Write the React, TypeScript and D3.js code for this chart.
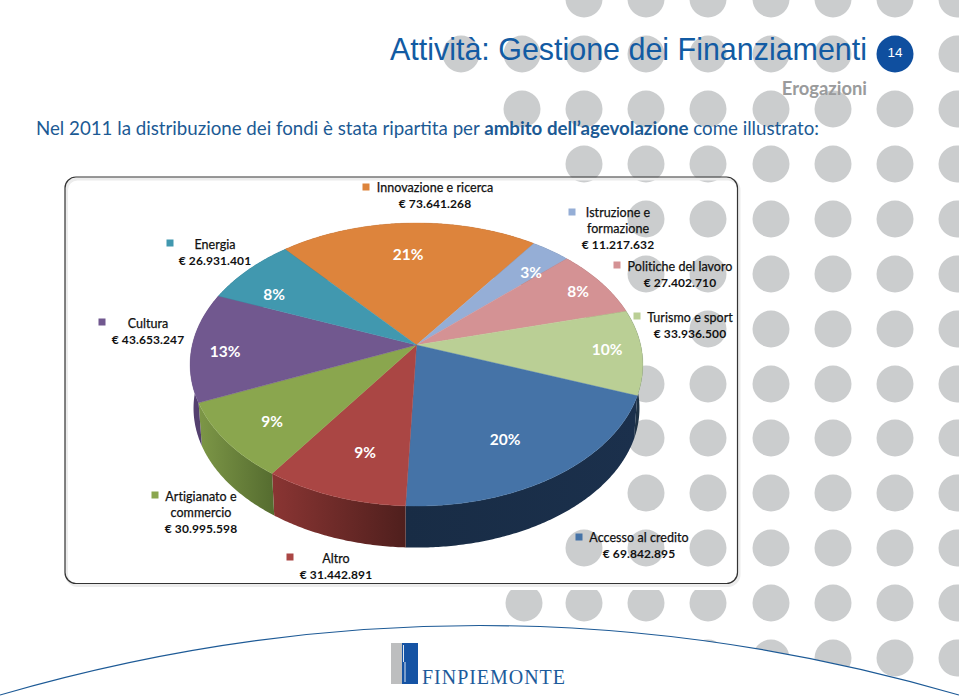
import React from 'react';
import * as d3 from 'd3';

const categories = ['Innovazione e ricerca', 'Istruzione e formazione', 'Politiche del lavoro', 'Turismo e sport', 'Accesso al credito', 'Altro', 'Artigianato e commercio', 'Cultura', 'Energia'];
const values = [73641268, 11217632, 27402710, 33936500, 69842895, 31442891, 30995598, 43653247, 26931401];
const amountLabels = ['€ 73.641.268', '€ 11.217.632', '€ 27.402.710', '€ 33.936.500', '€ 69.842.895', '€ 31.442.891', '€ 30.995.598', '€ 43.653.247', '€ 26.931.401'];
const nameLines = [['Innovazione e ricerca'], ['Istruzione e', 'formazione'], ['Politiche del lavoro'], ['Turismo e sport'], ['Accesso al credito'], ['Altro'], ['Artigianato e', 'commercio'], ['Cultura'], ['Energia']];
const topColors = ['#dd843c', '#95aed6', '#d49294', '#bacf95', '#4573a7', '#aa4644', '#8aa64e', '#71588f', '#4198af'];
const wallFrom = ['#8a5426', '#5d6d86', '#85595a', '#1f3346', '#182c45', '#8a3533', '#7d9747', '#54406f', '#2a6170'];
const wallTo = ['#8a5426', '#5d6d86', '#85595a', '#1f3346', '#1b304c', '#4f1f1d', '#566d30', '#43335c', '#2a6170'];

// layout of the label furniture, by category order
const legendSquareX = [366, 572, 617, 637, 579, 290, 155, 102, 170];
const legendSquareY = [187, 212, 265, 316, 537, 557, 495, 322, 243];
const legendCenterX = [435, 618, 680, 690, 639, 336, 201, 148, 215];
const legendFirstY = [187, 212, 266, 317, 537, 558, 496, 323, 244];
const pctX = [408, 531, 578, 607, 505, 365, 272, 225, 274];
const pctY = [254, 272, 291, 349, 439, 452, 421, 351, 294];

const dotRows = [-1, 54, 109, 164, 219, 274, 329, 384, 438, 493, 548, 603, 658];
const dotCols: number[][] = [
  [584, 646, 708, 771, 833, 895, 957],
  [461, 522, 584, 646, 708, 771, 833, 957],
  [522, 584, 646, 708, 771, 833, 895, 957],
  [584, 646, 708, 771, 833, 895, 957],
  [646, 708, 771, 833, 895, 957],
  [646, 708, 771, 833, 895, 957],
  [708, 771, 833, 895, 957],
  [646, 708, 771, 833, 895, 957],
  [646, 708, 771, 833, 895, 957],
  [646, 708, 771, 833, 895, 957],
  [584, 646, 708, 771, 833, 895, 957],
  [524, 584, 646, 708, 771, 833, 895, 957],
  [708, 771, 833, 895, 957],
];

const W = 959, H = 700;
const cx = 416.5, cy = 345;
const a = 224.2, b = 138.8, k = 0.138;
const baseScale = 0.985, depth = 44;
const startDeg = -40.4;

const proj = (t: number, s = 1, d = 0): [number, number] => {
  const X = Math.sin(t), Y = -Math.cos(t), w = 1 - k * Y;
  return [cx + (s * a * X) / w, cy + (s * b * Y) / w + d];
};
const start = (startDeg * Math.PI) / 180;
const arcs = d3.pie<number>().sort(null).startAngle(start).endAngle(start + 2 * Math.PI)(values);
const total = d3.sum(values);
const pct = d3.format('.0%');
const line = d3.line();
const sample = (a0: number, a1: number) => [...d3.range(a0, a1, 0.01), a1];
const LEGEND = 'Lato, Carlito, sans-serif';
const curve = 'M0,695 Q480,556 959,695';

export default function App() {
  return (
    <svg width={W} height={H} viewBox={`0 0 ${W} ${H}`} style={{ position: 'absolute', left: 0, top: 0, background: '#fff' }}>
      <defs>
        {arcs.map((s, i) => {
          const p0 = proj(s.startAngle), p1 = proj(s.endAngle);
          return (
            <linearGradient key={i} id={`wall${i}`} gradientUnits="userSpaceOnUse" x1={Math.min(p0[0], p1[0])} x2={Math.max(p0[0], p1[0])} y1={0} y2={0}>
              <stop offset="0" stopColor={wallFrom[i]} />
              <stop offset="1" stopColor={wallTo[i]} />
            </linearGradient>
          );
        })}
      </defs>

      {dotRows.map((y, r) => dotCols[r].map((x) => <circle key={`${r}-${x}`} cx={x} cy={y} r={18.5} fill="#cbcdce" />))}

      {/* white area under the footer curve */}
      <path d={`${curve} L959,700 L0,700 Z`} fill="#fff" />
      <path d={curve} fill="none" stroke="#1d5a96" strokeWidth={1.2} />

      {/* card */}
      <rect x={67} y={585} width={672} height={5} fill="#fff" />
      <rect x={738} y={180} width={5} height={408} fill="#fff" />
      <rect x={66.5} y={179} width={672.5} height={406.5} rx={11} fill="none" stroke="#ececec" strokeWidth={3} />
      <rect x={65} y={177} width={672.5} height={406.5} rx={11} fill="none" stroke="#333" strokeWidth={1.2} />

      {/* walls */}
      {arcs.map((s, i) => {
        const angles = sample(s.startAngle, s.endAngle);
        const pts = [...angles.map((t) => proj(t)), ...angles.slice().reverse().map((t) => proj(t, baseScale, depth))];
        return <path key={i} d={line(pts) + 'Z'} fill={`url(#wall${i})`} />;
      })}
      {/* top faces */}
      {arcs.map((s, i) => {
        const pts: [number, number][] = [[cx, cy], ...sample(s.startAngle, s.endAngle).map((t) => proj(t))];
        return <path key={i} d={line(pts) + 'Z'} fill={topColors[i]} stroke={topColors[i]} strokeWidth={0.4} />;
      })}

      {/* percentages */}
      {values.map((v, i) => (
        <text key={i} x={pctX[i]} y={pctY[i]} textAnchor="middle" dominantBaseline="central" fontFamily={LEGEND} fontWeight={700} fontSize={15.5} fill="#fff">
          {pct(v / total)}
        </text>
      ))}

      {/* legend */}
      {categories.map((c, i) => (
        <g key={c}>
          <rect x={legendSquareX[i] - 3.5} y={legendSquareY[i] - 3.5} width={7} height={7} fill={topColors[i]} />
          {[...nameLines[i], amountLabels[i]].map((t, j, arr) => {
            const isAmount = j === arr.length - 1;
            return (
              <text key={j} x={legendCenterX[i]} y={legendFirstY[i] + j * 16} textAnchor="middle" dominantBaseline="central" fontFamily={LEGEND} fontWeight={isAmount ? 700 : 400} fontSize={isAmount ? 12 : 12.5} letterSpacing={isAmount ? 0.1 : 0.05} fill="#111" stroke={isAmount ? 'none' : '#111'} strokeWidth={0.25}>
                {t}
              </text>
            );
          })}
        </g>
      ))}

      {/* header */}
      <text x={390} y={60} fontFamily="Liberation Sans" fontSize={31.5} fill="#125ba3" textLength={477} lengthAdjust="spacingAndGlyphs">Attività: Gestione dei Finanziamenti</text>
      <circle cx={895} cy={54} r={18.5} fill="#0f4f9f" />
      <text x={895} y={52} textAnchor="middle" dominantBaseline="central" fontFamily="Liberation Sans" fontSize={13.5} fill="#fff">14</text>
      <text x={867} y={95} textAnchor="end" fontFamily={LEGEND} fontWeight={700} fontSize={18.4} fill="#9a9b9c">Erogazioni</text>
      <text x={36} y={135} fontFamily={LEGEND} fontSize={18.72} fill="#1c5a94">
        Nel 2011 la distribuzione dei fondi è stata ripartita per <tspan fontWeight={700}>ambito dell’agevolazione</tspan> come illustrato:
      </text>

      {/* logo */}
      <rect x={391} y={643} width={11} height={41} fill="#bdbebf" />
      <rect x={402} y={643} width={16} height={41} fill="#1553a4" />
      <rect x={403} y={645} width={1} height={17} fill="#dfe8f2" />
      <rect x={404.5} y={662} width={1} height={20} fill="#dfe8f2" />
      <text x={422} y={684} fontFamily="Liberation Serif" fontSize={20} fill="#1d5b9b" textLength={143} lengthAdjust="spacing">FINPIEMONTE</text>
    </svg>
  );
}
